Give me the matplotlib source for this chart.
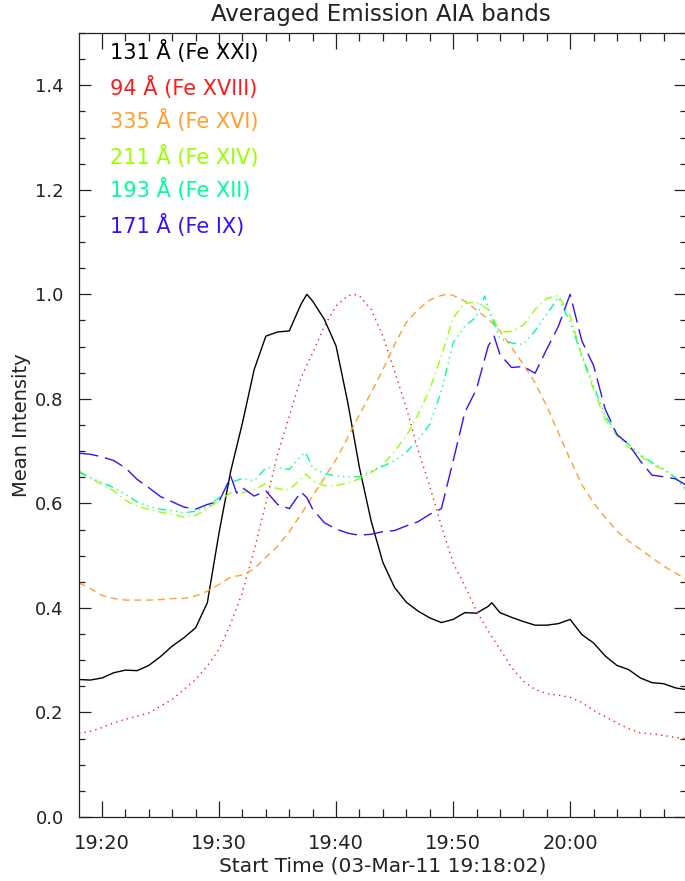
import numpy as np
import matplotlib.pyplot as plt
from matplotlib.ticker import MultipleLocator, FuncFormatter

# time in minutes after 19:00
t131 = [18.03, 19, 20, 21, 22, 23, 24, 25, 26, 27, 28, 29, 30, 31, 32, 33, 34, 35, 36, 37, 37.5,
        38, 39, 40, 41, 42, 43, 44, 45, 46, 47, 48, 49, 50, 51, 52, 53, 53.3,
        54, 55, 56, 57, 58, 59, 60, 61, 62, 63, 64, 65, 66, 67, 68, 69, 69.85]
v131 = [0.263, 0.262, 0.266, 0.276, 0.281, 0.280, 0.290, 0.307, 0.327, 0.343, 0.362, 0.410, 0.544,
        0.662, 0.754, 0.856, 0.920, 0.928, 0.930, 0.981, 1.000,
        0.987, 0.952, 0.901, 0.793, 0.668, 0.566, 0.487, 0.439, 0.411, 0.394, 0.381, 0.372, 0.378,
        0.391, 0.390, 0.403, 0.410,
        0.391, 0.382, 0.374, 0.367, 0.367, 0.370, 0.378, 0.349, 0.333, 0.308, 0.290, 0.282, 0.266,
        0.257, 0.255, 0.247, 0.244]

t94 = [18.03, 19, 20, 21, 22, 23, 24, 25, 26, 27, 28, 29, 30, 31, 32, 33, 34, 35, 36, 37, 38, 39,
       40, 41, 41.5, 42, 43, 44, 45, 46, 47, 48, 49, 50, 51, 52, 53, 54, 55, 56, 57, 58, 59, 60,
       61, 62, 63, 64, 65, 66, 67, 68, 69, 69.85]
v94 = [0.160, 0.164, 0.171, 0.180, 0.187, 0.193, 0.199, 0.212, 0.225, 0.244, 0.263, 0.289, 0.321,
       0.370, 0.430, 0.510, 0.601, 0.694, 0.767, 0.840, 0.888, 0.939,
       0.978, 0.997, 1.000, 0.997, 0.971, 0.920, 0.853, 0.783, 0.703, 0.633, 0.557, 0.486, 0.442,
       0.394, 0.356, 0.321, 0.286, 0.260, 0.244, 0.236, 0.233, 0.229,
       0.219, 0.204, 0.192, 0.180, 0.169, 0.161, 0.159, 0.156, 0.152, 0.150]

t335 = [18.03, 19, 20, 21, 22, 23, 24, 25, 26, 27, 28, 29, 30, 31, 32, 33, 34, 35, 36, 37, 38, 39,
        40, 41, 42, 43, 44, 45, 46, 47, 48, 49, 49.5, 50, 51, 52, 53, 54, 55, 56, 57, 58, 59, 60,
        61, 62, 63, 64, 65, 66, 67, 68, 69, 69.85]
v335 = [0.448, 0.437, 0.424, 0.418, 0.415, 0.415, 0.415, 0.416, 0.418, 0.418, 0.423, 0.432, 0.445,
        0.459, 0.463, 0.475, 0.497, 0.518, 0.546, 0.579, 0.614, 0.649,
        0.684, 0.726, 0.770, 0.812, 0.856, 0.904, 0.946, 0.971, 0.989, 0.998, 1.000, 0.998, 0.987,
        0.970, 0.953, 0.930, 0.898, 0.866, 0.831, 0.786, 0.735, 0.684,
        0.636, 0.601, 0.573, 0.547, 0.528, 0.512, 0.496, 0.480, 0.467, 0.455]

t211 = [18.03, 19, 20, 21, 22, 23, 24, 25, 26, 27, 28, 29, 30, 31, 32, 33, 34, 35, 36, 37, 37.4,
        38, 39, 40, 41, 42, 43, 44, 45, 46, 47, 48, 49, 50, 51, 52, 53, 54, 55, 56, 57, 58, 59,
        60, 61, 62, 63, 64, 65, 66, 67, 68, 69, 69.85]
v211 = [0.662, 0.649, 0.636, 0.624, 0.606, 0.594, 0.589, 0.583, 0.579, 0.574, 0.577, 0.590, 0.606,
        0.620, 0.620, 0.626, 0.638, 0.628, 0.626, 0.647, 0.656,
        0.643, 0.634, 0.634, 0.639, 0.647, 0.659, 0.674, 0.700, 0.729, 0.770, 0.818, 0.882, 0.955,
        0.983, 0.985, 0.971, 0.928, 0.929, 0.941, 0.971, 0.992, 0.998,
        0.959, 0.882, 0.818, 0.761, 0.729, 0.707, 0.691, 0.675, 0.664, 0.649, 0.628]

t193 = [18.03, 19, 20, 21, 22, 23, 24, 25, 26, 27, 28, 29, 30, 31, 32, 33, 34, 35, 36, 37, 37.4,
        38, 39, 40, 41, 42, 43, 44, 45, 46, 47, 48, 49, 50, 51, 52, 52.7, 53, 54, 55, 56, 57, 58,
        59, 60, 61, 62, 63, 64, 65, 66, 67, 68, 69, 69.85]
v193 = [0.660, 0.649, 0.640, 0.630, 0.617, 0.603, 0.594, 0.589, 0.586, 0.582, 0.585, 0.594, 0.611,
        0.640, 0.648, 0.643, 0.668, 0.668, 0.665, 0.691, 0.697,
        0.668, 0.657, 0.652, 0.651, 0.651, 0.662, 0.671, 0.682, 0.698, 0.722, 0.751, 0.815, 0.907,
        0.939, 0.957, 0.997, 0.974, 0.915, 0.907, 0.904, 0.930, 0.962,
        0.994, 0.946, 0.883, 0.825, 0.768, 0.732, 0.713, 0.694, 0.678, 0.666, 0.649, 0.627]

t171 = [18.03, 19, 20, 21, 22, 23, 24, 25, 26, 27, 28, 29, 30, 30.5, 31, 31.5, 32, 33, 34, 35, 36,
        37, 37.5, 38, 39, 40, 41, 42, 43, 44, 45, 46, 47, 48, 49, 50, 51, 52, 53, 53.5, 54, 55, 56,
        57, 58, 59, 60, 61, 62, 63, 64, 65, 66, 67, 68, 69, 69.85]
v171 = [0.696, 0.694, 0.689, 0.682, 0.668, 0.646, 0.630, 0.613, 0.603, 0.593, 0.589, 0.598, 0.604,
        0.627, 0.652, 0.620, 0.630, 0.614, 0.624, 0.598, 0.590,
        0.622, 0.611, 0.589, 0.563, 0.551, 0.543, 0.539, 0.541, 0.546, 0.548, 0.557, 0.565, 0.579,
        0.590, 0.681, 0.774, 0.819, 0.901, 0.920, 0.885, 0.860, 0.862,
        0.849, 0.895, 0.939, 1.000, 0.911, 0.864, 0.780, 0.732, 0.713, 0.681, 0.654, 0.651, 0.647, 0.636]

labels = ["131 Å (Fe XXI)", "94 Å (Fe XVIII)", "335 Å (Fe XVI)",
          "211 Å (Fe XIV)", "193 Å (Fe XII)", "171 Å (Fe IX)"]
colors = ["black", "#ff1a1a", "#ff9f30", "#99ff00", "#00ff99", "#3311ff"]
styles = ["-", (0, (1, 3)), (0, (5, 3.5)), (0, (6, 3, 1, 3)),
          (0, (6, 3, 1, 3, 1, 3, 1, 3)), (0, (14, 5))]
series = [(t131, v131), (t94, v94), (t335, v335), (t211, v211), (t193, v193), (t171, v171)]

plt.rcParams['font.family'] = ['DejaVu Sans']
fig = plt.figure(figsize=(6.85, 8.81), dpi=100)
ax = fig.add_axes([79 / 685, 64 / 881, 607 / 685, 784 / 881])

for (t, v), c, ls in zip(series, colors, styles):
    ax.plot(t, v, color=c, linestyle=ls, lw=1.0)

ax.set_xlim(18.033, 69.9)
ax.set_ylim(0, 1.5)
ax.xaxis.set_major_locator(MultipleLocator(10))
ax.xaxis.set_minor_locator(MultipleLocator(2))
ax.yaxis.set_major_locator(MultipleLocator(0.2))
ax.yaxis.set_minor_locator(MultipleLocator(0.05))


def hhmm(m, pos):
    h = 19 + int(m) // 60
    return "%02d:%02d" % (h, int(m) % 60)


ax.xaxis.set_major_formatter(FuncFormatter(hhmm))
ax.yaxis.set_major_formatter(FuncFormatter(lambda y, p: "%.1f" % y))

ax.tick_params(axis='x', which='major', direction='in', length=11.3, width=0.9,
               top=True, labelsize=14, pad=12, colors='#222222')
ax.tick_params(axis='x', which='minor', direction='in', length=5.6, width=0.9, top=True,
               colors='#222222')
ax.tick_params(axis='y', which='major', direction='in', length=8.6, width=0.9,
               right=True, labelsize=13, pad=11, colors='#222222')
ax.tick_params(axis='y', which='minor', direction='in', length=4.3, width=0.9, right=True,
               colors='#222222')
for s in ax.spines.values():
    s.set_linewidth(0.9)
    s.set_color('#222222')

ax.set_xlabel("Start Time (03-Mar-11 19:18:02)", fontsize=14.5, labelpad=3, color='#222222')
ax.set_ylabel("Mean Intensity", fontsize=14, labelpad=3, color='#222222')
fig.text(381 / 685, 1 - 15 / 881, "Averaged Emission AIA bands", fontsize=16.5,
         ha='center', va='center', color='#222222')

ys = [0.976, 0.931, 0.888, 0.843, 0.800, 0.755]
for lab, c, y in zip(labels, colors, ys):
    ax.text(0.051, y, lab, color=c, fontsize=15, transform=ax.transAxes, va='center')

plt.savefig("out.png", dpi=100)
